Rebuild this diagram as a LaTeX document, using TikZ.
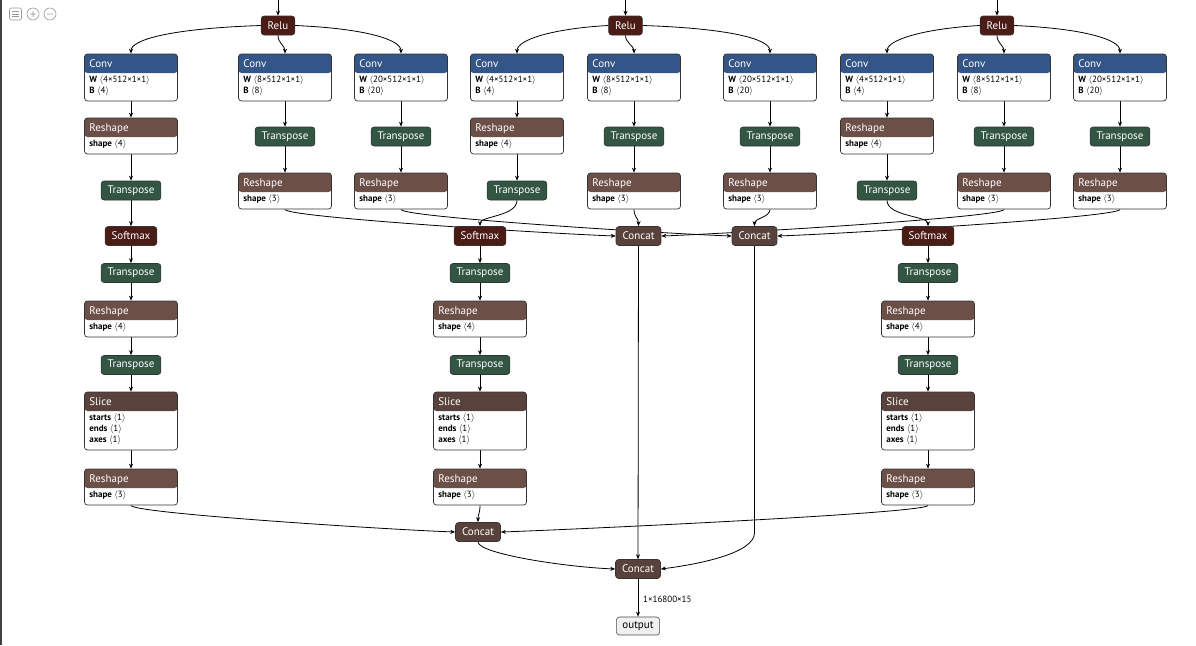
\documentclass[tikz,border=0pt]{standalone}
\usepackage{fontspec}
\setmainfont{PT Sans}
\usetikzlibrary{arrows.meta,calc}
\definecolor{convblue}{HTML}{335588}
\definecolor{shapebrown}{HTML}{6C4F47}
\definecolor{tensorbrown}{HTML}{59423B}
\definecolor{transgreen}{HTML}{335544}
\definecolor{actred}{HTML}{4B1B16}
\pgfdeclarelayer{bg}
\pgfsetlayers{bg,main}
\tikzset{
  pill/.style={draw=black!80, line width=0.6pt, rounded corners=3pt, text=white,
    minimum height=19pt, inner xsep=6.5pt, inner ysep=0pt, font=\fontsize{11}{13}\selectfont},
  opbody/.style={draw=black!80, line width=0.7pt, fill=white, rounded corners=3pt,
    minimum width=93pt, inner sep=0pt},
  hdtext/.style={text=white, inner sep=0pt, font=\fontsize{11}{13}\selectfont},
  attrtext/.style={inner sep=0pt, align=left, font=\fontsize{9}{11}\selectfont},
  edge/.style={draw=black, line width=0.8pt, -{Stealth[length=5pt,width=4pt]}},
}
% attribute line: bold key, value in angle brackets
\newcommand{\att}[2]{\textbf{#1}\ $\langle$#2$\rangle$}
% operator box: name, x, top y, height, header colour, title, attributes
\newcommand{\opbox}[7]{%
  \node[opbody, minimum height=#4pt,
    path picture={\fill[#5] ([yshift=2pt]path picture bounding box.north west)
      rectangle ([yshift=-19pt]path picture bounding box.north east);}] (#1) at (#2,#3+#4/2) {};
  \node[hdtext, anchor=base west] (#1-t) at ([xshift=5pt,yshift=-13.5pt]#1.north west) {#6};
  \node[attrtext, anchor=north west] (#1-a) at ([xshift=5pt,yshift=-22.3pt]#1.north west) {#7};
}

\begin{document}
\begin{tikzpicture}[x=1pt,y=-1pt]
\useasboundingbox (0,0) rectangle (1196,645);
\begin{pgfonlayer}{bg}
  \fill[white] (0,0) rectangle (1196,645);
\end{pgfonlayer}
\draw[black!75, line width=1.5pt] (0.75,0) -- (0.75,645);
% toolbar
\draw[black!40, line width=0.6pt, rounded corners=2pt] (9.5,8) rectangle (21.5,20);
\foreach \yy in {11.5,14,16.5} \draw[black!40, line width=0.6pt] (12,\yy) -- (19,\yy);
\draw[black!40, line width=0.6pt] (33,14) circle (6pt) (30,14) -- (36,14) (33,11) -- (33,17);
\draw[black!40, line width=0.6pt] (50,14) circle (6pt) (47,14) -- (53,14);

% left branch
\coordinate (inA) at (278,0);
\node[pill, fill=actred] (reluA) at (278,25.5) {Relu};
\opbox{cvA1}{131}{54}{47}{convblue}{Conv}{\att{W}{4×512×1×1}\\\att{B}{4}}
\opbox{cvA2}{285}{54}{47}{convblue}{Conv}{\att{W}{8×512×1×1}\\\att{B}{8}}
\opbox{cvA3}{401}{54}{47}{convblue}{Conv}{\att{W}{20×512×1×1}\\\att{B}{20}}
\opbox{rsA1}{131}{118}{36}{shapebrown}{Reshape}{\att{shape}{4}}
\node[pill, fill=transgreen] (trA1) at (131,190.5) {Transpose};
\node[pill, fill=actred] (smA) at (131,236) {Softmax};
\node[pill, fill=transgreen] (trA2) at (285,136.5) {Transpose};
\opbox{rsA2}{285}{173}{36}{shapebrown}{Reshape}{\att{shape}{3}}
\node[pill, fill=transgreen] (trA3) at (401,136.5) {Transpose};
\opbox{rsA3}{401}{173}{36}{shapebrown}{Reshape}{\att{shape}{3}}
\node[pill, fill=transgreen] (trA4) at (131,273) {Transpose};
\opbox{rsA4}{131}{301}{36}{shapebrown}{Reshape}{\att{shape}{4}}
\node[pill, fill=transgreen] (trA5) at (131,365) {Transpose};
\opbox{slA}{131}{392}{58}{tensorbrown}{Slice}{\att{starts}{1}\\\att{ends}{1}\\\att{axes}{1}}
\opbox{rsA5}{131}{469}{36}{shapebrown}{Reshape}{\att{shape}{3}}

% middle branch
\coordinate (inB) at (625.5,0);
\node[pill, fill=actred] (reluB) at (625.5,25.5) {Relu};
\opbox{cvB1}{517}{54}{47}{convblue}{Conv}{\att{W}{4×512×1×1}\\\att{B}{4}}
\opbox{cvB2}{634}{54}{47}{convblue}{Conv}{\att{W}{8×512×1×1}\\\att{B}{8}}
\opbox{cvB3}{770}{54}{47}{convblue}{Conv}{\att{W}{20×512×1×1}\\\att{B}{20}}
\opbox{rsB1}{517}{118}{36}{shapebrown}{Reshape}{\att{shape}{4}}
\node[pill, fill=transgreen] (trB1) at (517,190.5) {Transpose};
\node[pill, fill=actred] (smB) at (480,236) {Softmax};
\node[pill, fill=transgreen] (trB2) at (634,136.5) {Transpose};
\opbox{rsB2}{634}{173}{36}{shapebrown}{Reshape}{\att{shape}{3}}
\node[pill, fill=transgreen] (trB3) at (770,136.5) {Transpose};
\opbox{rsB3}{770}{173}{36}{shapebrown}{Reshape}{\att{shape}{3}}
\node[pill, fill=transgreen] (trB4) at (480,273) {Transpose};
\opbox{rsB4}{480}{301}{36}{shapebrown}{Reshape}{\att{shape}{4}}
\node[pill, fill=transgreen] (trB5) at (480,365) {Transpose};
\opbox{slB}{480}{392}{58}{tensorbrown}{Slice}{\att{starts}{1}\\\att{ends}{1}\\\att{axes}{1}}
\opbox{rsB5}{480}{469}{36}{shapebrown}{Reshape}{\att{shape}{3}}

% right branch
\coordinate (inC) at (997,0);
\node[pill, fill=actred] (reluC) at (997,25.5) {Relu};
\opbox{cvC1}{887}{54}{47}{convblue}{Conv}{\att{W}{4×512×1×1}\\\att{B}{4}}
\opbox{cvC2}{1004}{54}{47}{convblue}{Conv}{\att{W}{8×512×1×1}\\\att{B}{8}}
\opbox{cvC3}{1120}{54}{47}{convblue}{Conv}{\att{W}{20×512×1×1}\\\att{B}{20}}
\opbox{rsC1}{887}{118}{36}{shapebrown}{Reshape}{\att{shape}{4}}
\node[pill, fill=transgreen] (trC1) at (887,190.5) {Transpose};
\node[pill, fill=actred] (smC) at (928,236) {Softmax};
\node[pill, fill=transgreen] (trC2) at (1004,136.5) {Transpose};
\opbox{rsC2}{1004}{173}{36}{shapebrown}{Reshape}{\att{shape}{3}}
\node[pill, fill=transgreen] (trC3) at (1120,136.5) {Transpose};
\opbox{rsC3}{1120}{173}{36}{shapebrown}{Reshape}{\att{shape}{3}}
\node[pill, fill=transgreen] (trC4) at (928,273) {Transpose};
\opbox{rsC4}{928}{301}{36}{shapebrown}{Reshape}{\att{shape}{4}}
\node[pill, fill=transgreen] (trC5) at (928,365) {Transpose};
\opbox{slC}{928}{392}{58}{tensorbrown}{Slice}{\att{starts}{1}\\\att{ends}{1}\\\att{axes}{1}}
\opbox{rsC5}{928}{469}{36}{shapebrown}{Reshape}{\att{shape}{3}}

% concats and output
\node[pill, fill=tensorbrown] (catP) at (638.5,236) {Concat};
\node[pill, fill=tensorbrown] (catQ) at (754.5,236) {Concat};
\node[pill, fill=tensorbrown] (catA) at (478,532) {Concat};
\node[pill, fill=tensorbrown] (catB) at (638,569) {Concat};
\node[draw=black!70, line width=0.6pt, fill=black!6, rounded corners=3pt, minimum height=18pt,
  inner xsep=6pt, inner ysep=0pt, font=\fontsize{11}{13}\selectfont] (outN) at (638,626) {output};
\node[anchor=west, inner sep=0pt, font=\fontsize{9}{10}\selectfont] (outL) at (643,599) {1×16800×15};

\begin{pgfonlayer}{bg}
  \foreach \g in {A,B,C} {
    \draw[edge] (in\g) -- (relu\g);
    \draw[edge] (relu\g.south) .. controls +(0,8) and +(0,-8) .. (cv\g2.north);
    \draw[edge] (cv\g1) -- (rs\g1);
    \draw[edge] (rs\g1) -- (tr\g1);
    \draw[edge] (cv\g2) -- (tr\g2);
    \draw[edge] (tr\g2) -- (rs\g2);
    \draw[edge] (cv\g3) -- (tr\g3);
    \draw[edge] (tr\g3) -- (rs\g3);
    \draw[edge] (sm\g) -- (tr\g4);
    \draw[edge] (tr\g4) -- (rs\g4);
    \draw[edge] (rs\g4) -- (tr\g5);
    \draw[edge] (tr\g5) -- (sl\g);
    \draw[edge] (sl\g) -- (rs\g5);
  }
  \draw[edge] (reluA.west) .. controls +(-90,3) and +(0,-14) .. (cvA1.north);
  \draw[edge] (reluA.east) .. controls +(70,3) and +(0,-14) .. (cvA3.north);
  \draw[edge] (reluB.west) .. controls +(-55,3) and +(0,-14) .. (cvB1.north);
  \draw[edge] (reluB.east) .. controls +(90,3) and +(0,-14) .. (cvB3.north);
  \draw[edge] (reluC.west) .. controls +(-55,3) and +(0,-14) .. (cvC1.north);
  \draw[edge] (reluC.east) .. controls +(70,3) and +(0,-14) .. (cvC3.north);
  \draw[edge] (trA1) -- (smA);
  \draw[edge] (trB1.south) .. controls +(0,16) and +(0,-10) .. (smB.north);
  \draw[edge] (trC1.south) .. controls +(0,16) and +(0,-10) .. (smC.north);
  % into the two middle concats
  \draw[edge] (rsA2.south) .. controls +(0,8) and +(-60,-2) .. (catP.west);
  \draw[edge] (rsA3.south) .. controls +(0,8) and +(-60,-2) .. (catQ.west);
  \draw[edge] (rsB2.south) .. controls +(0,8) and +(0,-8) .. (catP.north);
  \draw[edge] (rsB3.south) .. controls +(0,8) and +(0,-8) .. (catQ.north);
  \draw[edge] (rsC2.south) .. controls +(0,8) and +(60,-2) .. (catP.east);
  \draw[edge] (rsC3.south) .. controls +(0,8) and +(60,-2) .. (catQ.east);
  % into the lower concats
  \draw[edge] (rsA5.south) .. controls +(0,8) and +(-60,-2) .. (catA.west);
  \draw[edge] (rsB5.south) .. controls +(0,8) and +(0,-8) .. (catA.north);
  \draw[edge] (rsC5.south) .. controls +(0,8) and +(60,-2) .. (catA.east);
  \draw[edge] (catA.south) .. controls +(0,12) and +(-50,-2) .. (catB.west);
  \draw[edge] (catP) -- (catB);
  \draw[edge] (catQ.south) -- ($(catQ.south)+(0,287)$) .. controls +(0,20) and +(40,-5) .. (catB.east);
  \draw[edge] (catB) -- (outN);
\end{pgfonlayer}
\end{tikzpicture}
\end{document}
